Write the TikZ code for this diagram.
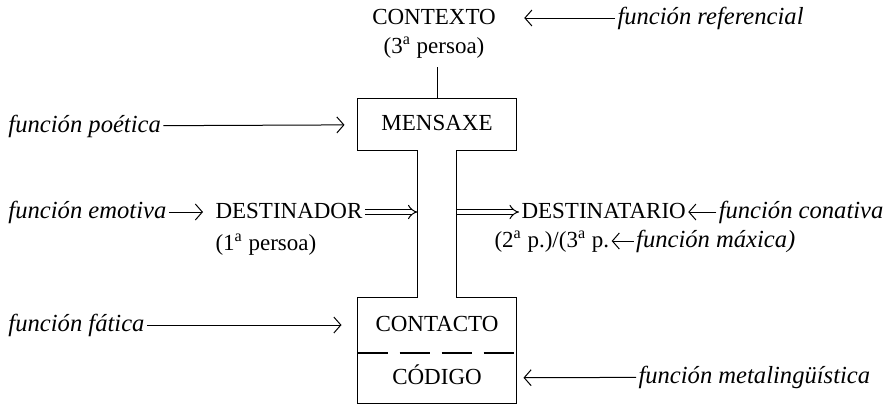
\documentclass[tikz,border=0pt]{standalone}
\usepackage{fontspec}
\setmainfont{Liberation Serif}
\usetikzlibrary{positioning,arrows.meta}

\begin{document}
\begin{tikzpicture}[x=0.5pt,y=-0.5pt,line width=0.5pt,
	>={Straight Barb[length=3.5pt,width=8pt]},node distance=2.5pt,
	lbl/.style={font=\fontsize{11.5}{13}\selectfont,inner sep=1pt,text height=8.5pt,text depth=2.5pt},
	fn/.style={font=\fontsize{12.3}{14}\selectfont\itshape,inner sep=1pt,text height=8.5pt,text depth=2.5pt},
	part/.style={lbl,minimum width=79pt,inner sep=0pt},
	dbl/.style={double,double distance=2pt,line width=0.5pt,-{Implies}}]

\useasboundingbox (0,0) rectangle (886,408);

\node [lbl] (contexto) at (434,18) {CONTEXTO};
\node [lbl] (persoa3) [below=1pt of contexto] {(3\textsuperscript{a} persoa)};
\node [fn,anchor=west] (referencial) at (615,18) {función referencial};

\node [part,minimum height=25.5pt] (mensaxe) at (437,124.5) {MENSAXE};
\node [fn,anchor=west] (poetica) at (6,126) {función poética};

\node [fn,anchor=west] (emotiva) at (6,212) {función emotiva};
\node [lbl,anchor=west] (destinador) at (213,212) {DESTINADOR};
\node [lbl] (persoa1) [below=of destinador.south west,anchor=north west] {(1\textsuperscript{a} persoa)};
\coordinate (stemL) at (417.5,212);
\coordinate (stemR) at (456.5,212);
\node [lbl,anchor=west] (destinatario) at (519,212) {DESTINATARIO};
\node [fn] (conativa) [right=14pt of destinatario] {función conativa};
\node [lbl,anchor=west] (p2) at (492,241) {(2\textsuperscript{a} p.)/(3\textsuperscript{a} p.};
\node [fn] (maxica) [right=11pt of p2] {función máxica)};

\node [part,minimum height=27pt] (contacto) at (437,325) {CONTACTO};
\node [part,minimum height=25pt] (codigo) [below=0pt of contacto] {CÓDIGO};
\node [fn,anchor=west] (fatica) at (6,325) {función fática};
\node [fn,anchor=west] (metaling) at (636,377) {función metalingüística};

% outline of the channel
\draw [line width=0.6pt] (mensaxe.south west) |- (mensaxe.north east)
	|- ([xshift=9.75pt]mensaxe.south) |- (contacto.north east)
	|- (codigo.south west) |- ([xshift=-9.75pt]contacto.north)
	|- (mensaxe.south west) -- cycle;
\draw [line width=1pt,dash pattern=on 15pt off 6pt] (contacto.south west) -- (contacto.south east);
\draw (mensaxe.north) -- ([yshift=-3pt]mensaxe.north |- persoa3.south);

\path [->]
	(referencial) edge [shorten >=13pt] (contexto)
	(poetica) edge [shorten >=6.5pt] (mensaxe)
	(emotiva) edge [shorten >=5pt] (destinador)
	(conativa) edge (destinatario)
	(maxica) edge (p2)
	(fatica) edge [shorten >=8pt] (contacto)
	(metaling) edge [shorten >=3.5pt] (codigo)
;

\draw [dbl] (destinador) -- (stemL);
\draw [dbl] (stemR) -- (destinatario);

\end{tikzpicture}
\end{document}
